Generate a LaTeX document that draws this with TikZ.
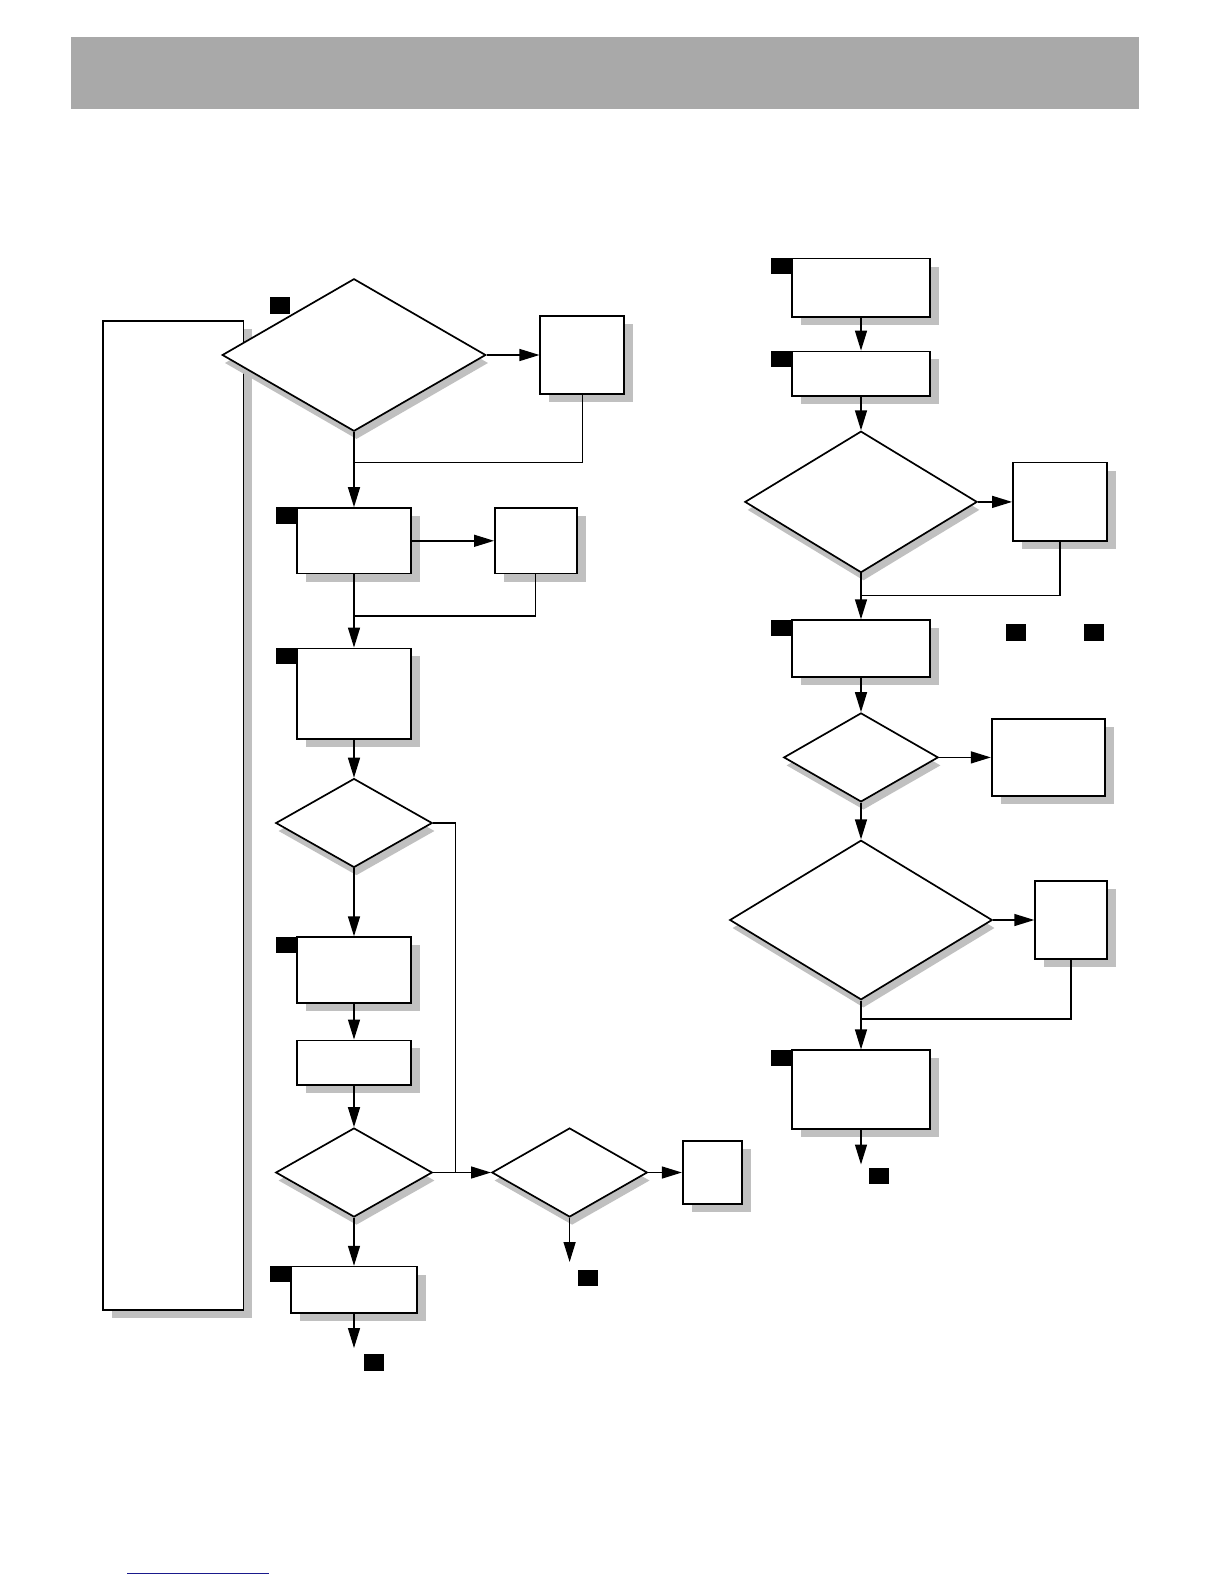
\documentclass[tikz,border=0pt]{standalone}
\usepackage{tikz}
\usetikzlibrary{arrows.meta, positioning, shapes.geometric, shadows}
\definecolor{headgray}{HTML}{A9A9A9}
\definecolor{shadegray}{HTML}{C0C0C0}
\definecolor{linkblue}{HTML}{1A1A8C}

\begin{document}
\begin{tikzpicture}[
  x=1pt, y=-1pt,
  box/.style={draw, fill=white, line width=1.7pt, inner sep=0pt,
    drop shadow={shadow xshift=9pt, shadow yshift=-8pt, fill=shadegray, opacity=1}},
  test/.style={diamond, draw, fill=white, line width=1.7pt, inner sep=0pt,
    drop shadow={shadow xshift=2.5pt, shadow yshift=-8pt, fill=shadegray, opacity=1}},
  tag/.style={fill=black, inner sep=0pt, minimum width=20pt, minimum height=16.5pt},
  flow/.style={->, line width=1.4pt},
  link/.style={line width=1.2pt},
  >={Triangle[length=20pt, width=12pt]}
]
  \useasboundingbox (0,0) rectangle (1224,1584);

  % title bar
  \node[fill=headgray, inner sep=0pt, minimum width=1068.4pt, minimum height=71.7pt] (header) at (604.9,73.25) {};

  % left column
  \node[box, minimum width=140.4pt, minimum height=988.7pt] (loop) at (173.2,815.45) {};
  \node[test, minimum width=263.6pt, minimum height=152.5pt] (d1) at (354,355) {};
  \node[tag] (t1) at (280.3,305.5) {};
  \node[box, minimum width=83.8pt, minimum height=77.8pt] (b1) at (582.2,355) {};
  \coordinate (j1) at (354,462.5);
  \draw[flow] (d1.east) -- (b1.west);
  \draw[link] (b1.south) |- (j1);

  \node[box, minimum width=114.1pt, minimum height=65.6pt] (b2) at (354,540.8) {};
  \node[tag, anchor=north east] (t2) at (b2.north west) {};
  \node[box, minimum width=81.8pt, minimum height=65.6pt] (b3) at (535.8,540.8) {};
  \coordinate (j2) at (354,616);
  \draw[flow] (d1.south) -- (b2.north);
  \draw[flow] (b2.east) -- (b3.west);
  \draw[link] (b3.south) |- (j2);

  \node[box, minimum width=114.1pt, minimum height=90.8pt] (b4) at (354,693.8) {};
  \node[tag, anchor=north east] (t3) at (b4.north west) {};
  \draw[flow] (b2.south) -- (b4.north);

  \node[test, minimum width=156.5pt, minimum height=88.9pt] (d2) at (354,823) {};
  \draw[flow] (b4.south) -- (d2.north);

  \node[box, minimum width=114.1pt, minimum height=65.6pt] (b5) at (354,970) {};
  \node[tag, anchor=north east] (t4) at (b5.north west) {};
  \node[box, minimum width=114.1pt, minimum height=44.3pt] (b6) at (354,1062.5) {};
  \draw[flow] (d2.south) -- (b5.north);
  \draw[flow] (b5.south) -- (b6.north);

  \node[test, minimum width=156.5pt, minimum height=89pt] (d3) at (354,1172.5) {};
  \node[test, minimum width=155.5pt, minimum height=89pt] (d4) at (569.6,1172.5) {};
  \node[box, minimum width=59.6pt, minimum height=62.7pt] (b8) at (712.5,1172.5) {};
  \coordinate (j5) at (455.7,1172.5);
  \draw[flow] (b6.south) -- (d3.north);
  \draw[link] (d2.east) -| (j5);
  \draw[flow] (d3.east) -- (d4.west);
  \draw[flow] (d4.east) -- (b8.west);

  \node[box, minimum width=126.2pt, minimum height=46.4pt] (b7) at (354,1289.8) {};
  \node[tag, anchor=north east] (t5) at (b7.north west) {};
  \draw[flow] (d3.south) -- (b7.north);
  \coordinate (e1) at (354,1348);
  \draw[flow] (b7.south) -- (e1);
  \node[tag, below right=6pt and 9.6pt of e1] (t6) {};
  \coordinate (e2) at (569.6,1262);
  \draw[flow] (d4.south) -- (e2);
  \node[tag, below right=7.4pt and 8.1pt of e2] (t7) {};

  % right column
  \node[box, minimum width=138.3pt, minimum height=58.6pt] (r1) at (861,287.8) {};
  \node[tag, anchor=north east] (t8) at (r1.north west) {};
  \node[box, minimum width=138.3pt, minimum height=44.5pt] (r2) at (861,373.7) {};
  \node[tag, anchor=north east] (t9) at (r2.north west) {};
  \draw[flow] (r1.south) -- (r2.north);

  \node[test, minimum width=232.3pt, minimum height=141.4pt] (d5) at (861,501.9) {};
  \node[box, minimum width=94pt, minimum height=78.8pt] (r3) at (1059.9,501.9) {};
  \coordinate (j3) at (861,595.8);
  \draw[flow] (r2.south) -- (d5.north);
  \draw[flow] (d5.east) -- (r3.west);
  \draw[link] (r3.south) |- (j3);

  \node[box, minimum width=138.3pt, minimum height=56.5pt] (r4) at (861,648.4) {};
  \node[tag, anchor=north east] (t10) at (r4.north west) {};
  \node[tag] (t11) at (1015.5,632.7) {};
  \node[tag] (t12) at (1094.2,632.7) {};
  \draw[flow] (d5.south) -- (r4.north);

  \node[test, minimum width=154.5pt, minimum height=88.9pt] (d6) at (861,757.4) {};
  \node[box, minimum width=113.2pt, minimum height=76.7pt] (r5) at (1048.3,757.4) {};
  \draw[flow] (r4.south) -- (d6.north);
  \draw[flow] (d6.east) -- (r5.west);

  \node[test, minimum width=262.5pt, minimum height=159.5pt] (d7) at (861,920) {};
  \node[box, minimum width=71.7pt, minimum height=77.7pt] (r6) at (1071,920) {};
  \coordinate (j4) at (861,1019);
  \draw[flow] (d6.south) -- (d7.north);
  \draw[flow] (d7.east) -- (r6.west);
  \draw[link] (r6.south) |- (j4);

  \node[box, minimum width=138.3pt, minimum height=78.8pt] (r7) at (861,1089.7) {};
  \node[tag, anchor=north east] (t13) at (r7.north west) {};
  \draw[flow] (d7.south) -- (r7.north);
  \coordinate (e3) at (861,1164.5);
  \draw[flow] (r7.south) -- (e3);
  \node[tag, below right=2.8pt and 7.5pt of e3] (t14) {};

  % page link
  \draw[linkblue, line width=1.3pt] (127.2,1573.5) -- (268.6,1573.5);
\end{tikzpicture}
\end{document}
